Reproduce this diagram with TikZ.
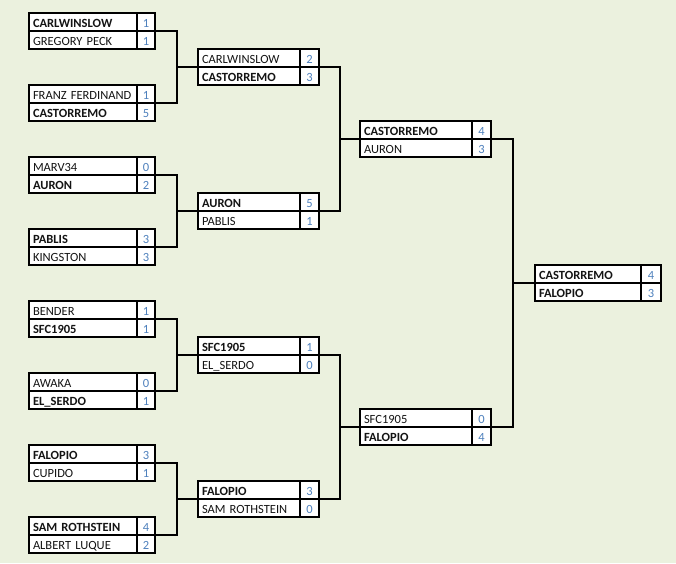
\documentclass[tikz,border=0pt]{standalone}
\usepackage{fontspec}
\setmainfont{Carlito}
\definecolor{bgc}{HTML}{EBF1DE}
\definecolor{scorec}{HTML}{4F81BD}
\definecolor{namec}{HTML}{141414}
\newcommand\brmatch[9]{%
  \pgfmathsetmacro\brY{12.5+18*#3}%
  \pgfmathsetmacro\brTW{#4-8}%
  \node[namecell, minimum width=#4pt, text width=\brTW pt] (#1a) at (#2,\brY) {#6};
  \node[scorecell, minimum width=#5pt] (#1as) at (#1a.north east) {#7};
  \node[namecell, minimum width=#4pt, text width=\brTW pt] (#1b) at (#1a.south west) {#8};
  \node[scorecell, minimum width=#5pt] (#1bs) at (#1b.north east) {#9};
}
\begin{document}
\begin{tikzpicture}[x=1pt,y=-1pt,
  cellbase/.style={draw, line width=2pt, fill=white, outer sep=0pt, inner ysep=0pt,
    minimum height=18pt, text height=12pt, text depth=0pt, anchor=north west,
    font=\fontsize{12.5}{14}\selectfont},
  namecell/.style={cellbase, inner xsep=4pt, align=left, text=namec},
  scorecell/.style={cellbase, inner xsep=0pt, align=center, text=scorec},
  conn/.style={draw, line width=2pt}]
\fill[bgc] (0,0) rectangle (676,563);
\useasboundingbox (0,0) rectangle (676,563);
% Round 1
\brmatch{m1}{29}{0}{108}{18}{\textbf{CARLWINSLOW}}{1}{GREGORY PECK}{1}
\brmatch{m2}{29}{4}{108}{18}{FRANZ FERDINAND}{1}{\textbf{CASTORREMO}}{5}
\brmatch{m3}{29}{8}{108}{18}{MARV34}{0}{\textbf{AURON}}{2}
\brmatch{m4}{29}{12}{108}{18}{\textbf{PABLIS}}{3}{KINGSTON}{3}
\brmatch{m5}{29}{16}{108}{18}{BENDER}{1}{\textbf{SFC1905}}{1}
\brmatch{m6}{29}{20}{108}{18}{AWAKA}{0}{\textbf{EL\_SERDO}}{1}
\brmatch{m7}{29}{24}{108}{18}{\textbf{FALOPIO}}{3}{CUPIDO}{1}
\brmatch{m8}{29}{28}{108}{18}{\textbf{SAM ROTHSTEIN}}{4}{ALBERT LUQUE}{2}
% Round 2
\brmatch{q1}{198}{2}{102}{19}{CARLWINSLOW}{2}{\textbf{CASTORREMO}}{3}
\brmatch{q2}{198}{10}{102}{19}{\textbf{AURON}}{5}{PABLIS}{1}
\brmatch{q3}{198}{18}{102}{19}{\textbf{SFC1905}}{1}{EL\_SERDO}{0}
\brmatch{q4}{198}{26}{102}{19}{\textbf{FALOPIO}}{3}{SAM ROTHSTEIN}{0}
% Round 3
\brmatch{s1}{360}{6}{112}{19}{\textbf{CASTORREMO}}{4}{AURON}{3}
\brmatch{s2}{360}{22}{112}{19}{SFC1905}{0}{\textbf{FALOPIO}}{4}
% Final
\brmatch{f}{535}{14}{106}{20}{\textbf{CASTORREMO}}{4}{\textbf{FALOPIO}}{3}
% junctions
\coordinate (j1) at (177,66.5);
\coordinate (j2) at (177,210.5);
\coordinate (j3) at (177,354.5);
\coordinate (j4) at (177,498.5);
\coordinate (k1) at (339.5,138.5);
\coordinate (k2) at (339.5,426.5);
\coordinate (l1) at (513,282.5);
% connectors
\draw[conn] (m1as.south east) -| (j1) |- (m2as.south east);
\draw[conn] (j1) -- (q1a.south west);
\draw[conn] (m3as.south east) -| (j2) |- (m4as.south east);
\draw[conn] (j2) -- (q2a.south west);
\draw[conn] (m5as.south east) -| (j3) |- (m6as.south east);
\draw[conn] (j3) -- (q3a.south west);
\draw[conn] (m7as.south east) -| (j4) |- (m8as.south east);
\draw[conn] (j4) -- (q4a.south west);
\draw[conn] (q1as.south east) -| (k1) |- (q2as.south east);
\draw[conn] (k1) -- (s1a.south west);
\draw[conn] (q3as.south east) -| (k2) |- (q4as.south east);
\draw[conn] (k2) -- (s2a.south west);
\draw[conn] (s1as.south east) -| (l1) |- (s2as.south east);
\draw[conn] (l1) -- (fa.south west);
\end{tikzpicture}
\end{document}
